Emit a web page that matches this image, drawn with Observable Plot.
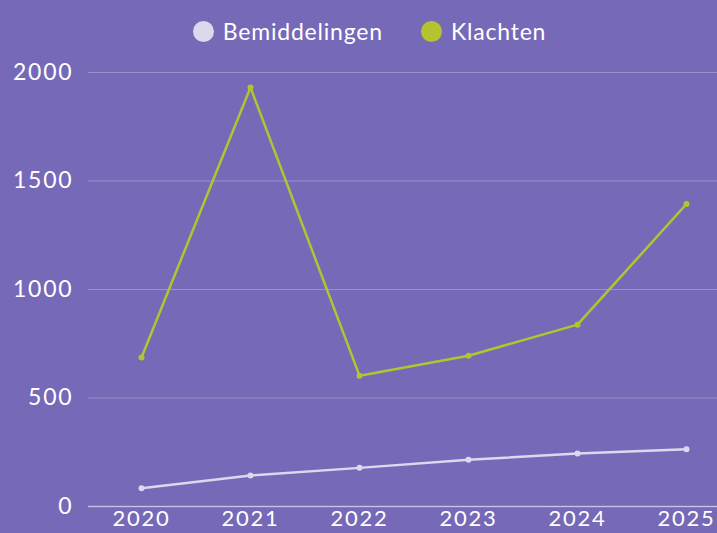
<!DOCTYPE html>
<html>
<head>
<meta charset="utf-8">
<script src="https://cdn.jsdelivr.net/npm/d3@7"></script>
<script src="https://cdn.jsdelivr.net/npm/@observablehq/plot@0.6"></script>
<style>
  html, body { margin: 0; padding: 0; background: #7669b8; overflow: hidden; width: 717px; height: 533px; }
  body { font-family: "Lato", sans-serif; color: #ffffff; }
  #legend { height: 50px; display: flex; justify-content: center; align-items: center; gap: 38px; padding-left: 22px; padding-top: 12px; box-sizing: border-box; font-size: 23px; letter-spacing: 0.8px; }
  .item { display: flex; align-items: center; gap: 9px; }
  .sw { width: 21px; height: 21px; border-radius: 50%; display: inline-block; }
  #chart svg { display: block; }
  #chart svg text { letter-spacing: 1.8px; }
</style>
</head>
<body>
<div id="legend"></div>
<div id="chart"></div>
<script>
const years = ["2020", "2021", "2022", "2023", "2024", "2025"];
const seriesNames = ["Bemiddelingen", "Klachten"];
const bemiddelingen = [84, 143, 178, 215, 244, 264];
const klachten = [687, 1931, 603, 695, 838, 1394];
const colors = ["#dcd8ee", "#b3c431"];
const yTicks = [0, 500, 1000, 1500, 2000];

const data = [];
years.forEach((y, i) => {
  data.push({year: y, series: seriesNames[0], value: bemiddelingen[i]});
  data.push({year: y, series: seriesNames[1], value: klachten[i]});
});

const legend = document.getElementById("legend");
seriesNames.forEach((s, i) => {
  const it = document.createElement("div");
  it.className = "item";
  const sw = document.createElement("span");
  sw.className = "sw";
  sw.style.background = colors[i];
  const t = document.createElement("span");
  t.textContent = s;
  it.appendChild(sw);
  it.appendChild(t);
  legend.appendChild(it);
});

const chart = Plot.plot({
  width: 717,
  height: 483,
  marginTop: 22,
  marginLeft: 88,
  marginRight: 0,
  marginBottom: 27,
  style: {background: "transparent", color: "#ffffff", fontFamily: "Lato, sans-serif", fontSize: "23px", overflow: "visible"},
  x: {type: "point", domain: years, range: [141, 686], padding: 0, label: null},
  y: {domain: [0, 2000], ticks: yTicks, label: null},
  color: {domain: seriesNames, range: colors},
  marks: [
    Plot.gridY(yTicks, {stroke: "#ffffff", strokeOpacity: 0.28, strokeWidth: 1}),
    Plot.ruleY([0], {stroke: "#ffffff", strokeOpacity: 0.45, strokeWidth: 1.5}),
    Plot.axisY({ticks: yTicks, tickFormat: "d", tickSize: 0, tickPadding: 15, fill: "#ffffff", fontSize: 23, label: null}),
    Plot.axisX({tickSize: 0, tickPadding: 4, fill: "#ffffff", fontSize: 22, label: null}),
    Plot.line(data, {x: "year", y: "value", z: "series", stroke: "series", strokeWidth: 2.5}),
    Plot.dot(data, {x: "year", y: "value", fill: "series", r: 3})
  ]
});
document.getElementById("chart").appendChild(chart);
</script>
</body>
</html>
